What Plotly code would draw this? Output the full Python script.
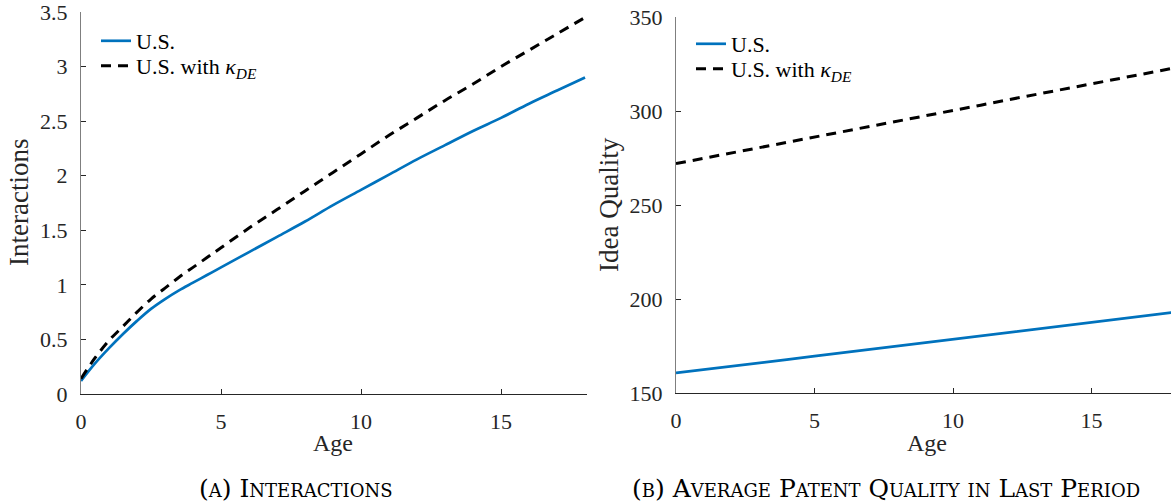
import plotly.graph_objects as go

# ---------------- data ----------------
age_a = [0, 0.5, 1, 1.5, 2, 2.5, 3, 3.5, 4, 4.5, 5, 6, 7, 8, 9, 10, 11, 12, 13, 14, 15, 16, 17, 18]
us_interactions = [0.12, 0.28, 0.42, 0.55, 0.67, 0.78, 0.87, 0.95, 1.02, 1.09, 1.16, 1.30, 1.44,
                   1.58, 1.73, 1.87, 2.01, 2.15, 2.28, 2.41, 2.53, 2.66, 2.78, 2.90]
us_de_interactions = [0.14, 0.33, 0.49, 0.62, 0.75, 0.87, 0.97, 1.07, 1.16, 1.25, 1.34, 1.52, 1.69,
                      1.86, 2.03, 2.20, 2.37, 2.53, 2.69, 2.84, 3.00, 3.15, 3.30, 3.45]

age_b = list(range(0, 19))
us_quality = [160.7, 162.4, 164.2, 166.0, 167.8, 169.6, 171.4, 173.2, 175.0, 176.8,
              178.6, 180.4, 182.2, 184.0, 185.8, 187.6, 189.4, 191.2, 193.0]
us_de_quality = [272.0, 274.8, 277.7, 280.5, 283.3, 286.2, 289.0, 291.8, 294.6, 297.5,
                 300.3, 303.1, 306.0, 308.8, 311.6, 314.4, 317.3, 320.1, 322.9]

x_ticks = [0, 5, 10, 15]
series_names = ["U.S.", "U.S. with <i>κ</i><sub><i>DE</i></sub>"]
captions = ["(a) Interactions", "(b) Average Patent Quality in Last Period"]
y_titles = ["Interactions", "Idea Quality"]
x_title = "Age"

# ---------------- style ----------------
W, H = 1171, 504
FONT = "Liberation Serif, Times New Roman, DejaVu Serif, serif"
CAP_FONT = "DejaVu Serif, Liberation Serif, serif"
BLUE = "#0072BD"
TXT = "#262626"
DASH = "10px,7px"

fig = go.Figure()

fig.add_trace(go.Scatter(x=age_a, y=us_interactions, mode="lines", name=series_names[0],
                         line=dict(color=BLUE, width=2.7, shape="spline", smoothing=1.0),
                         xaxis="x", yaxis="y", legend="legend"))
fig.add_trace(go.Scatter(x=age_a, y=us_de_interactions, mode="lines", name=series_names[1],
                         line=dict(color="black", width=3, dash=DASH, shape="spline", smoothing=1.0),
                         xaxis="x", yaxis="y", legend="legend2"))
fig.add_trace(go.Scatter(x=age_b, y=us_quality, mode="lines", name=series_names[0],
                         line=dict(color=BLUE, width=2.7),
                         xaxis="x2", yaxis="y2", legend="legend3"))
fig.add_trace(go.Scatter(x=age_b, y=us_de_quality, mode="lines", name=series_names[1],
                         line=dict(color="black", width=3, dash=DASH),
                         xaxis="x2", yaxis="y2", legend="legend4"))


def px_x(p):
    return p / W


def px_y(p):
    return 1 - p / H


axis_common = dict(showgrid=False, zeroline=False, showline=True, ticks="inside",
                   ticklen=5, tickwidth=1, automargin=False, ticklabeloverflow="allow",
                   tickfont=dict(family=FONT, size=22, color=TXT))


def legend_at(xp, yp):
    return dict(x=px_x(xp), y=px_y(yp), xanchor="left", yanchor="middle",
                xref="paper", yref="paper",
                bgcolor="rgba(0,0,0,0)", borderwidth=0,
                font=dict(family=FONT, size=22, color="black"))


fig.update_layout(
    width=W, height=H,
    margin=dict(l=0, r=0, t=0, b=0, autoexpand=False),
    paper_bgcolor="white", plot_bgcolor="white",
    font=dict(family=FONT, color=TXT),
    xaxis=dict(domain=[px_x(81), px_x(587)], range=[0, 18.07], tickvals=x_ticks,
               anchor="y", linecolor="#262626", tickcolor="#262626",
               ticklabelstandoff=8, **axis_common),
    yaxis=dict(domain=[px_y(394), px_y(12)], range=[0, 3.5], dtick=0.5,
               anchor="x", linecolor="#7f7f7f", tickcolor="#262626",
               ticklabelstandoff=8, **axis_common),
    xaxis2=dict(domain=[px_x(676), 1.0], range=[0, 17.87], tickvals=x_ticks,
                anchor="y2", linecolor="#262626", tickcolor="#262626",
                ticklabelstandoff=8, **axis_common),
    yaxis2=dict(domain=[px_y(393), px_y(17)], range=[150, 350], dtick=50,
                anchor="x2", linecolor="#7f7f7f", tickcolor="#262626",
                ticklabelstandoff=8, **axis_common),
    legend=legend_at(96, 41),
    legend2=legend_at(96, 66),
    legend3=legend_at(691, 44),
    legend4=legend_at(691, 69),
    showlegend=True,
)

ann = []
# axis titles
for xc, txt in [(333, x_title), (927, x_title)]:
    ann.append(dict(x=px_x(xc), y=px_y(443), xref="paper", yref="paper", text=txt,
                    showarrow=False, xanchor="center", yanchor="middle",
                    font=dict(family=FONT, size=24, color=TXT)))
for xc, yc, txt in [(19, 203, y_titles[0]), (609, 205, y_titles[1])]:
    ann.append(dict(x=px_x(xc), y=px_y(yc), xref="paper", yref="paper", text=txt,
                    showarrow=False, xanchor="center", yanchor="middle", textangle=-90,
                    font=dict(family=FONT, size=27, color=TXT)))
# captions
for xc, txt in [(296, captions[0]), (886, captions[1])]:
    ann.append(dict(x=px_x(xc), y=px_y(488), xref="paper", yref="paper", text=txt,
                    showarrow=False, xanchor="center", yanchor="middle",
                    font=dict(family=CAP_FONT, size=25, color="black", variant="small-caps")))
fig.update_layout(annotations=ann)

fig.write_html("out.html")
